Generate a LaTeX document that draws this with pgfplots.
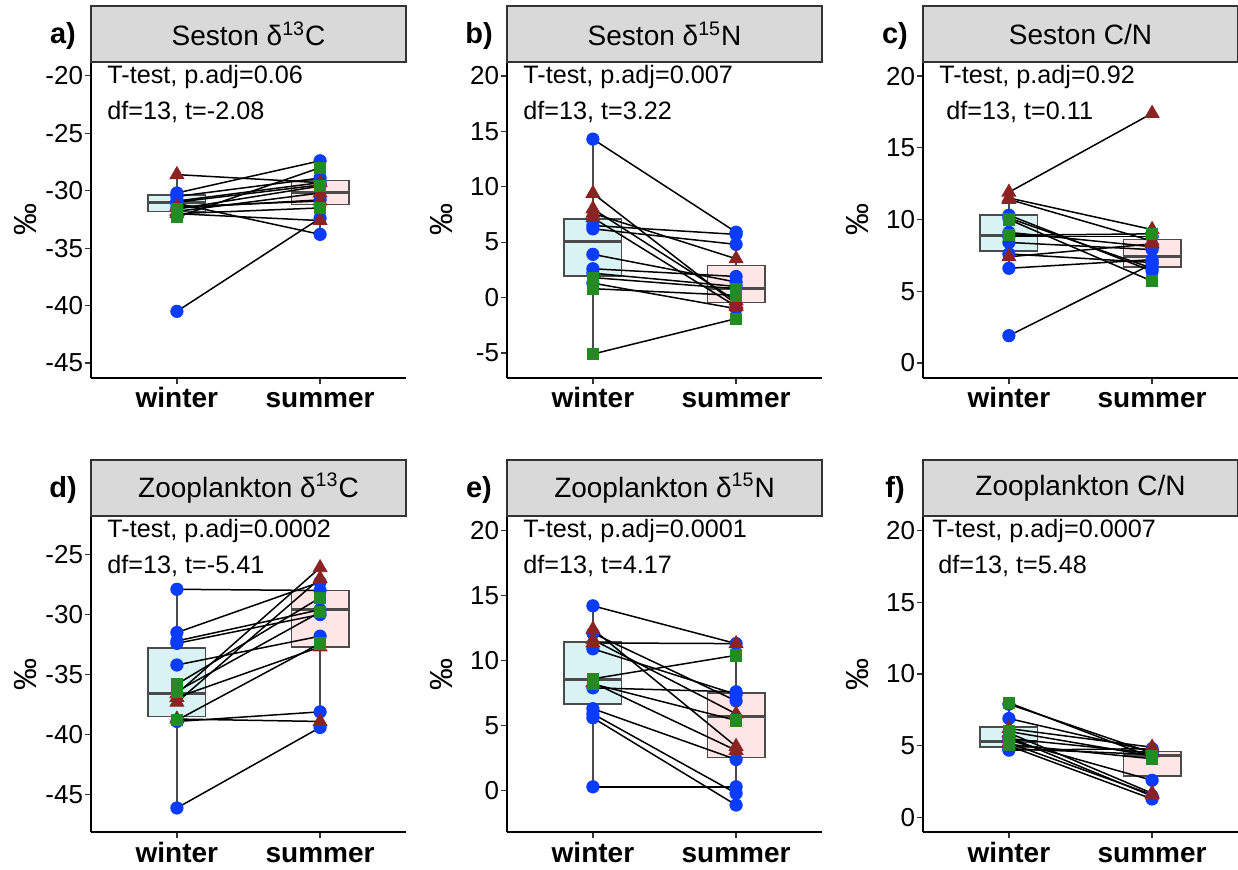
\documentclass[border=0pt]{standalone}
\usepackage{fontspec}
\setmainfont{Liberation Sans}
\usepackage{pgfplots}
\usepackage{pgfplotstable}
\usepgfplotslibrary{statistics}
\pgfplotsset{compat=1.18}

\definecolor{cblue}{HTML}{0A3CFF}
\definecolor{cred}{HTML}{8B2323}
\definecolor{cgreen}{HTML}{228B22}
\definecolor{wfill}{HTML}{D9F2F3}
\definecolor{sfill}{HTML}{FDE6E5}
\definecolor{boxedge}{HTML}{4A4A4A}
\definecolor{stripfill}{HTML}{D9D9D9}
\definecolor{stripedge}{HTML}{333333}

% winter (w) / summer (s) values of each pair, g = group (b circle, t triangle, g square)
\pgfplotstableread{
w s g
-30.2 -27.4 b
-30.5 -28.9 b
-30.9 -29.3 b
-31.1 -33.8 b
-40.5 -32.4 b
-31.5 -30.8 b
-31.0 -29.5 b
-28.6 -29.3 t
-31.8 -30.2 t
-31.4 -30.9 t
-32.0 -32.6 t
-32.3 -28.0 g
-32.0 -31.5 g
-31.6 -29.6 g
}\tabA
\pgfplotstableread{
w s g
14.3 5.9 b
6.5 5.7 b
6.2 4.8 b
3.9 1.4 b
2.6 1.9 b
2.2 1.0 b
1.3 -1.0 b
9.4 -0.6 t
8.0 -0.3 t
7.6 3.5 t
7.2 -0.8 t
0.8 0.2 g
-5.1 -1.9 g
1.8 0.8 g
}\tabB
\pgfplotstableread{
w s g
10.3 6.4 b
10.1 6.6 b
9.1 8.1 b
8.8 8.8 b
8.4 7.9 b
7.6 7.0 b
6.6 7.2 b
1.9 6.9 b
11.9 17.4 t
11.5 9.3 t
11.4 8.5 t
7.4 8.3 t
10.0 5.7 g
8.9 9.0 g
}\tabC
\pgfplotstableread{
w s g
-27.9 -28.0 b
-31.5 -27.3 b
-32.2 -29.6 b
-32.4 -30.0 b
-34.2 -31.8 b
-38.9 -38.1 b
-46.1 -39.4 b
-36.6 -26.1 t
-37.3 -27.0 t
-38.7 -38.9 t
-36.9 -32.7 t
-35.8 -28.6 g
-36.4 -29.8 g
-38.8 -32.4 g
}\tabD
\pgfplotstableread{
w s g
14.2 11.3 b
12.1 6.9 b
10.9 7.4 b
7.9 7.6 b
6.3 2.4 b
5.6 -1.1 b
5.9 -0.2 b
0.3 0.3 b
12.4 3.4 t
11.35 11.3 t
11.6 5.9 t
8.3 3.1 t
8.6 10.4 g
8.2 5.4 g
}\tabE
\pgfplotstableread{
w s g
7.9 4.5 b
6.9 4.6 b
5.4 2.6 b
5.0 1.3 b
4.8 4.4 b
4.7 4.8 b
5.6 1.5 b
6.2 4.9 t
5.9 1.7 t
5.5 4.5 t
5.2 1.6 t
8.0 4.2 g
6.0 4.3 g
5.1 4.1 g
}\tabF

\pgfplotsset{
  panel/.style={
    scale only axis, width=157.5pt, height=158pt, anchor=south west,
    xmin=0.4, xmax=2.6, xtick={1,2}, xticklabels={winter,summer},
    axis x line*=bottom, axis y line*=left,
    axis line style={line width=0.8pt, black},
    tick align=outside, major tick length=2.8pt,
    tick style={line width=0.6pt, black!80},
    xticklabel style={font=\bfseries\fontsize{14}{14}\selectfont, text height=10pt, text depth=3pt, inner sep=0pt, yshift=-2pt},
    yticklabel style={font=\fontsize{13}{13}\selectfont, inner sep=1pt},
    /pgf/number format/assume math mode=true,
    boxplot/draw direction=y,
    clip=false,
  },
  pts/.style={only marks, scatter, scatter src=explicit symbolic,
    scatter/classes={
      b={mark=*, mark size=3.1pt, cblue},
      t={mark=triangle*, mark size=4pt, cred},
      g={mark=square*, mark size=2.8pt, cgreen}}},
}

% strip, title, panel letter, y label
\newcommand{\strip}[2]{%
  \draw[fill=stripfill, draw=stripedge, line width=0.6pt] (rel axis cs:0,1) rectangle ([yshift=28pt]rel axis cs:1,1);
  \node[font=\fontsize{14}{14}\selectfont] at ([yshift=14pt]rel axis cs:0.5,1) {#2};
  \node[font=\bfseries\fontsize{14.5}{14.5}\selectfont] at ([xshift=-14pt,yshift=13pt]rel axis cs:0,1) {#1};
  \node[rotate=90, font=\fontsize{16}{16}\selectfont] at ([xshift=-33pt]rel axis cs:0,0.5) {‰};
}
\newcommand{\note}[4]{%
  \node[anchor=base west, inner sep=0pt, font=\fontsize{12.6}{12.6}\selectfont] at ([xshift=#1pt,yshift=-10.8pt]rel axis cs:0,1) {#2};
  \node[anchor=base west, inner sep=0pt, font=\fontsize{12.6}{12.6}\selectfont] at ([xshift=#3pt,yshift=-28.8pt]rel axis cs:0,1) {#4};
}
% draw position, lower whisker, lower quartile, median, upper quartile, upper whisker, fill
\newcommand{\bx}[7]{%
  \addplot[boxplot prepared={draw position=#1, lower whisker=#2, lower quartile=#3,
      median=#4, upper quartile=#5, upper whisker=#6, box extend=0.4, whisker extend=0,
      every median/.style={line width=1.5pt}},
    fill=#7, draw=boxedge, line width=0.8pt] coordinates {};
}
\newcommand{\pairs}[1]{%
  \addplot[pts] table[x expr=1, y=w, meta=g] {#1};
  \addplot[pts] table[x expr=2, y=s, meta=g] {#1};
  \addplot[black, line width=0.75pt, quiver={u=1, v=\thisrow{s}-\thisrow{w}}] table[x expr=1, y=w] {#1};
}

\begin{document}
\begin{tikzpicture}
\path[use as bounding box] (0,0) rectangle (619pt,434.5pt);

\begin{axis}[panel, at={(45.5pt,245.5pt)}, ymin=-46.3, ymax=-18.8, ytick={-45,-40,...,-20}]
  \strip{a)}{Seston δ\textsuperscript{13}C}
  \note{8}{T-test, p.adj=0.06}{8}{df=13, t=-2.08}
  \bx{1}{-32.3}{-31.8}{-31.0}{-30.4}{-28.6}{wfill}
  \bx{2}{-33.8}{-31.2}{-30.2}{-29.1}{-27.3}{sfill}
  \pairs{\tabA}
\end{axis}

\begin{axis}[panel, at={(253.5pt,245.5pt)}, ymin=-7.26, ymax=21.26, ytick={-5,0,...,20}]
  \strip{b)}{Seston δ\textsuperscript{15}N}
  \note{8}{T-test, p.adj=0.007}{8}{df=13, t=3.22}
  \bx{1}{-5.1}{1.96}{5.1}{7.1}{14.3}{wfill}
  \bx{2}{-1.9}{-0.45}{0.8}{2.9}{5.9}{sfill}
  \pairs{\tabB}
\end{axis}

\begin{axis}[panel, at={(461.5pt,245.5pt)}, ymin=-1.05, ymax=20.98, ytick={0,5,...,20}]
  \strip{c)}{Seston C/N}
  \note{8}{T-test, p.adj=0.92}{11.5}{df=13, t=0.11}
  \bx{1}{6.6}{7.8}{8.9}{10.3}{11.9}{wfill}
  \bx{2}{5.7}{6.7}{7.45}{8.6}{9.4}{sfill}
  \pairs{\tabC}
\end{axis}

\begin{axis}[panel, at={(45.5pt,18.5pt)}, ymin=-48.1, ymax=-21.8, ytick={-45,-40,...,-25}]
  \strip{d)}{Zooplankton δ\textsuperscript{13}C}
  \note{8}{T-test, p.adj=0.0002}{8}{df=13, t=-5.41}
  \bx{1}{-46.1}{-38.5}{-36.6}{-32.8}{-27.9}{wfill}
  \bx{2}{-39.4}{-32.7}{-29.6}{-28.0}{-26.1}{sfill}
  \pairs{\tabD}
\end{axis}

\begin{axis}[panel, at={(253.5pt,18.5pt)}, ymin=-3.17, ymax=21.1, ytick={0,5,...,20}]
  \strip{e)}{Zooplankton δ\textsuperscript{15}N}
  \note{8}{T-test, p.adj=0.0001}{8}{df=13, t=4.17}
  \bx{1}{0.3}{6.65}{8.55}{11.4}{14.2}{wfill}
  \bx{2}{-1.1}{2.55}{5.7}{7.5}{11.3}{sfill}
  \pairs{\tabE}
\end{axis}

\begin{axis}[panel, at={(461.5pt,18.5pt)}, ymin=-1.0, ymax=21.0, ytick={0,5,...,20}]
  \strip{f)}{Zooplankton C/N}
  \note{4.5}{T-test, p.adj=0.0007}{7.5}{df=13, t=5.48}
  \bx{1}{4.7}{4.93}{5.3}{6.3}{8.0}{wfill}
  \bx{2}{1.2}{2.9}{4.35}{4.6}{5.05}{sfill}
  \pairs{\tabF}
\end{axis}
\end{tikzpicture}
\end{document}
